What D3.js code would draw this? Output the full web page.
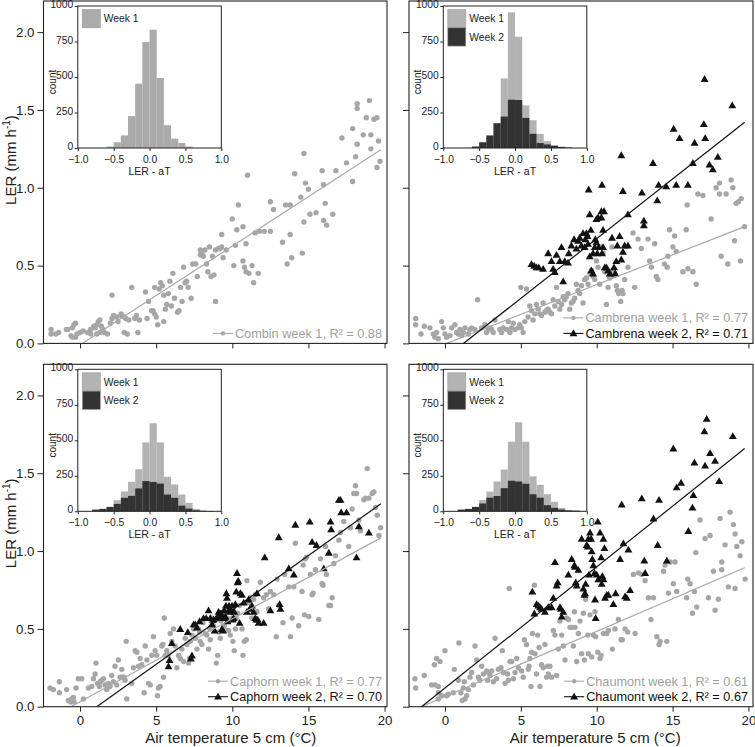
<!DOCTYPE html>
<html><head><meta charset="utf-8">
<script src="https://cdn.jsdelivr.net/npm/d3@7"></script>
<style>
body{margin:0;background:#fff}
svg{display:block}
text{font-family:"Liberation Sans",Arial,Helvetica,sans-serif}
</style>
</head><body>
<svg id="chart" width="755" height="747"></svg>
<script>
// ---------------- DATA ----------------
const xTicks = [0, 5, 10, 15, 20];
const yTicks = [0, 0.5, 1.0, 1.5, 2.0];
const histXTicks = [-1.0, -0.5, 0.0, 0.5, 1.0];
const histYTicks = [0, 250, 500, 750, 1000];
const binStarts = [-0.8,-0.7,-0.6,-0.5,-0.4,-0.3,-0.2,-0.1,0.0,0.1,0.2,0.3,0.4,0.5,0.6,0.7,0.8];
const binWidth = 0.1;

const histCombinW1   = [0,0,10,40,89,225,453,746,833,493,160,66,35,10,0,0,0];
const histCambrenaW1 = [0,3,10,40,88,174,490,955,784,300,196,100,48,20,8,3,0];
const histCambrenaW2 = [0,0,10,40,88,174,221,340,338,212,100,35,25,15,8,3,0];
const histCaphornW1  = [0,8,24,78,140,208,296,485,620,485,243,189,118,59,17,5,2];
const histCaphornW2  = [12,17,31,52,95,109,161,213,206,195,118,95,40,19,7,3,2];
const histChaumontW1 = [0,8,24,79,139,210,294,490,627,490,246,187,120,67,24,5,2];
const histChaumontW2 = [12,17,31,55,96,108,163,215,210,194,120,96,43,24,12,7,5];

// regression fits [slope, intercept]
const fitCombinW1   = [0.0635, -0.010];
const fitCambrenaW1 = [0.0382, -0.004];
const fitCambrenaW2 = [0.0767, -0.094];
const fitCaphornW1  = [0.0533, 0.032];
const fitCaphornW2  = [0.0699, -0.077];
const fitChaumontW1 = [0.0419, 0.065];
const fitChaumontW2 = [0.0779, 0.120];
const fitRange = [-2.4, 19.75];

const legendCombin   = ["Combin week 1, R\u00b2 = 0.88"];
const legendCambrena = ["Cambrena week 1, R\u00b2 = 0.77", "Cambrena week 2, R\u00b2 = 0.71"];
const legendCaphorn  = ["Caphorn week 1, R\u00b2 = 0.77", "Caphorn week 2, R\u00b2 = 0.70"];
const legendChaumont = ["Chaumont week 1, R\u00b2 = 0.61", "Chaumont week 2, R\u00b2 = 0.67"];
const histLegend = ["Week 1", "Week 2"];

const combinWeek1 = [[-1.9,0.09],[-1.9,0.06],[-1.6,0.06],[-1.4,0.07],[-0.9,0.09],[-0.8,0.09],[-0.5,0.10],[-0.4,0.12],[-0.3,0.13],[-0.6,0.05],[-0.5,0.04],[-0.3,0.04],[-0.2,0.06],[0.0,0.07],[0.2,0.08],[0.5,0.07],[0.7,0.09],[0.9,0.11],[1.0,0.10],[1.1,0.12],[1.2,0.14],[1.3,0.15],[1.4,0.11],[1.5,0.09],[1.6,0.07],[1.8,0.06],[1.3,0.07],[1.1,0.06],[0.7,0.06],[2.0,0.13],[2.1,0.16],[2.2,0.18],[2.4,0.17],[2.1,0.31],[2.5,0.14],[2.7,0.19],[2.7,0.18],[2.9,0.17],[3.0,0.16],[2.9,0.07],[3.1,0.06],[3.4,0.36],[3.2,0.15],[3.6,0.16],[3.7,0.18],[3.8,0.07],[3.9,0.15],[4.3,0.33],[4.4,0.16],[4.5,0.27],[4.7,0.21],[4.8,0.21],[4.9,0.36],[4.9,0.19],[5.0,0.17],[5.1,0.12],[5.2,0.35],[5.3,0.39],[5.4,0.37],[5.5,0.31],[5.5,0.14],[5.6,0.22],[5.7,0.25],[5.8,0.32],[5.9,0.40],[6.0,0.24],[6.1,0.45],[6.2,0.29],[6.4,0.20],[6.5,0.21],[6.6,0.36],[6.7,0.27],[6.8,0.49],[6.9,0.39],[7.0,0.40],[7.1,0.36],[7.3,0.29],[7.4,0.51],[7.6,0.51],[7.7,0.43],[7.9,0.57],[7.9,0.60],[8.0,0.58],[8.1,0.56],[8.2,0.60],[8.3,0.51],[8.4,0.46],[8.5,0.62],[8.6,0.43],[8.7,0.56],[8.8,0.44],[8.9,0.60],[8.9,0.27],[9.1,0.61],[9.2,0.61],[9.3,0.70],[9.3,0.62],[9.4,0.55],[9.6,0.60],[10.0,0.80],[10.1,0.50],[10.2,0.63],[10.3,0.73],[10.4,0.89],[10.7,0.75],[10.7,0.53],[10.8,0.49],[10.9,0.46],[10.9,0.64],[11.0,1.08],[11.1,0.45],[11.3,0.50],[11.4,0.39],[11.5,0.71],[11.7,0.45],[11.8,0.72],[12.1,0.72],[12.5,0.72],[12.5,0.91],[12.7,0.86],[13.3,0.65],[13.5,0.89],[13.6,0.51],[13.8,0.70],[13.8,0.89],[13.9,0.55],[14.1,1.09],[14.5,0.94],[14.6,0.58],[14.7,1.22],[14.7,0.78],[14.8,1.03],[15.0,0.99],[15.1,0.83],[15.5,0.84],[15.9,1.11],[16.0,1.02],[16.0,0.79],[16.1,0.90],[16.2,0.76],[16.6,0.83],[16.8,1.11],[17.2,1.32],[17.5,1.16],[17.9,1.38],[17.9,1.04],[18.1,1.20],[18.2,1.51],[18.2,1.54],[18.2,1.28],[18.6,1.34],[18.8,1.45],[19.0,1.56],[19.1,1.34],[19.1,1.25],[19.3,1.44],[19.5,1.13],[19.5,1.45],[19.6,1.30],[19.7,1.17]];

const cambrenaWeek1 = [[-1.93,0.16],[-1.93,0.12],[-1.36,0.11],[-1.58,0.06],[-0.99,0.10],[-0.77,0.06],[-0.66,0.04],[-0.55,0.07],[-0.44,0.03],[-0.22,0.14],[-0.11,0.10],[0.0,0.06],[0.11,0.04],[0.33,0.05],[0.44,0.10],[0.66,0.12],[0.77,0.07],[0.88,0.06],[0.99,0.09],[1.10,0.05],[1.21,0.07],[1.32,0.10],[1.54,0.06],[1.64,0.09],[1.75,0.10],[1.97,0.09],[2.15,0.28],[2.41,0.10],[2.63,0.12],[2.74,0.07],[2.85,0.09],[2.96,0.10],[3.07,0.09],[3.18,0.07],[3.29,0.15],[3.62,0.09],[3.73,0.07],[3.84,0.10],[4.06,0.09],[4.17,0.14],[4.28,0.07],[4.39,0.10],[4.50,0.13],[4.61,0.09],[4.82,0.10],[4.93,0.12],[5.00,0.36],[5.04,0.10],[5.15,0.07],[5.26,0.14],[5.37,0.35],[5.48,0.17],[5.59,0.24],[5.70,0.21],[5.81,0.15],[5.92,0.19],[6.03,0.25],[6.14,0.22],[6.25,0.19],[6.36,0.18],[6.47,0.26],[6.58,0.20],[6.69,0.21],[6.80,0.22],[6.91,0.20],[7.02,0.19],[7.13,0.28],[7.24,0.24],[7.35,0.36],[7.46,0.27],[7.57,0.22],[7.68,0.25],[7.79,0.30],[7.89,0.28],[8.00,0.30],[8.11,0.32],[8.22,0.22],[8.33,0.26],[8.44,0.27],[8.55,0.29],[8.66,0.38],[8.77,0.34],[8.88,0.32],[8.99,0.37],[9.10,0.26],[9.21,0.41],[9.32,0.42],[9.43,0.38],[9.54,0.45],[9.65,0.47],[9.76,0.43],[9.87,0.41],[9.98,0.53],[10.09,0.49],[10.20,0.38],[10.31,0.62],[10.42,0.58],[10.53,0.46],[10.64,0.25],[10.75,0.36],[10.86,0.42],[10.96,0.43],[11.01,0.62],[11.07,0.47],[11.18,0.45],[11.29,0.37],[11.36,0.34],[11.45,0.32],[11.58,0.27],[11.67,0.34],[11.73,0.32],[11.84,0.41],[12.06,0.49],[12.39,0.71],[12.50,0.36],[12.72,0.67],[12.94,0.61],[13.38,0.67],[13.49,0.53],[13.60,0.49],[13.82,0.64],[13.93,0.43],[14.04,0.41],[14.47,0.51],[14.65,0.49],[14.69,0.56],[14.80,0.73],[15.02,0.62],[15.13,0.69],[15.24,0.59],[15.68,0.46],[15.90,0.73],[15.96,0.89],[16.01,0.48],[16.34,0.46],[16.56,0.38],[16.67,0.96],[17.00,0.95],[17.54,0.80],[17.87,1.00],[18.09,1.03],[18.09,0.96],[18.20,0.56],[18.53,0.96],[18.64,0.51],[18.86,1.05],[18.97,1.00],[19.08,0.66],[19.19,0.90],[19.34,0.91],[19.47,0.53],[19.52,0.93],[19.74,0.75]];

const cambrenaWeek2 = [[5.70,0.51],[5.88,0.50],[6.03,0.49],[6.18,0.49],[6.47,0.48],[6.80,0.58],[7.02,0.53],[7.13,0.48],[7.24,0.46],[7.35,0.57],[7.57,0.53],[7.68,0.62],[7.79,0.40],[7.89,0.53],[8.11,0.52],[8.16,0.58],[8.33,0.63],[8.51,0.67],[8.66,0.61],[8.77,0.66],[8.88,0.68],[8.99,0.63],[9.10,0.71],[9.21,0.62],[9.25,0.67],[9.32,0.71],[9.39,0.69],[9.43,0.64],[9.54,0.56],[9.61,0.73],[9.65,0.47],[9.76,0.58],[9.76,0.45],[9.87,0.62],[9.91,0.67],[9.98,0.65],[10.04,0.58],[10.09,0.81],[10.13,0.62],[10.31,0.85],[10.35,0.58],[10.42,0.73],[10.42,0.62],[10.53,0.49],[10.64,0.49],[10.75,0.47],[10.86,0.45],[11.01,0.68],[11.14,0.49],[11.23,0.45],[11.29,0.53],[11.36,0.63],[11.51,0.69],[11.62,0.54],[11.73,0.59],[11.84,0.63],[12.06,0.63],[9.47,0.99],[9.54,0.83],[9.98,0.80],[10.31,0.81],[10.35,1.02],[10.48,0.85],[11.62,1.21],[11.73,0.98],[12.06,0.83],[12.98,0.97],[13.11,0.79],[13.11,0.76],[13.71,1.16],[13.99,0.92],[14.08,1.02],[14.58,1.01],[15.07,1.38],[15.24,1.02],[15.46,1.32],[16.01,1.02],[16.34,1.16],[16.45,1.29],[17.06,1.41],[17.11,1.70],[17.15,1.32],[17.43,1.15],[17.65,1.12],[17.98,1.20],[18.93,1.53]];

const caphornWeek1 = [[-1.97,0.12],[-1.75,0.11],[-1.36,0.16],[-1.36,0.09],[-0.88,0.11],[-0.77,0.04],[-0.61,0.03],[-0.55,0.05],[-0.44,0.06],[-0.39,0.03],[-0.26,0.12],[-0.11,0.18],[0.11,0.18],[0.22,0.05],[0.55,0.12],[0.77,0.13],[0.88,0.18],[0.99,0.21],[1.05,0.28],[1.14,0.15],[1.27,0.13],[1.32,0.16],[1.43,0.17],[1.54,0.18],[1.64,0.14],[1.75,0.11],[1.86,0.15],[1.97,0.13],[2.08,0.20],[2.19,0.16],[2.30,0.26],[2.41,0.14],[2.52,0.30],[2.63,0.19],[2.74,0.24],[2.81,0.19],[2.89,0.19],[2.96,0.17],[3.03,0.42],[3.07,0.05],[3.40,0.15],[3.51,0.25],[3.62,0.36],[3.73,0.35],[3.84,0.26],[3.95,0.31],[4.06,0.27],[4.21,0.09],[4.28,0.39],[4.39,0.30],[4.50,0.15],[4.61,0.14],[4.71,0.33],[4.82,0.45],[4.93,0.36],[5.04,0.33],[5.09,0.07],[5.15,0.12],[5.26,0.13],[5.37,0.39],[5.44,0.40],[5.48,0.19],[5.53,0.57],[5.59,0.33],[5.70,0.36],[5.81,0.33],[5.92,0.47],[6.03,0.42],[6.14,0.50],[6.25,0.39],[6.36,0.25],[6.47,0.33],[6.58,0.31],[6.69,0.37],[6.80,0.29],[6.91,0.44],[7.02,0.40],[7.13,0.28],[7.19,0.31],[7.24,0.42],[7.35,0.46],[7.46,0.50],[7.57,0.44],[7.68,0.37],[7.79,0.50],[7.85,0.48],[7.89,0.42],[8.00,0.40],[8.07,0.54],[8.22,0.47],[8.33,0.46],[8.44,0.37],[8.51,0.50],[8.55,0.43],[8.60,0.55],[8.66,0.57],[8.77,0.52],[8.88,0.56],[8.95,0.28],[9.04,0.33],[9.10,0.48],[9.21,0.44],[9.25,0.55],[9.32,0.60],[9.39,0.61],[9.47,0.52],[9.54,0.49],[9.65,0.57],[9.76,0.49],[9.87,0.46],[9.98,0.57],[10.04,0.42],[10.09,0.61],[10.13,0.36],[10.20,0.50],[10.26,0.57],[10.35,0.60],[10.48,0.65],[10.64,0.50],[10.70,0.33],[10.79,0.42],[10.92,0.43],[10.96,0.81],[11.07,0.67],[11.18,0.70],[11.29,0.57],[11.40,0.69],[11.51,0.72],[11.62,0.61],[11.84,0.80],[12.06,0.70],[12.24,0.72],[12.39,0.63],[12.50,0.74],[12.72,0.72],[12.89,0.45],[12.94,0.82],[13.05,0.65],[13.33,0.54],[13.44,0.85],[13.71,0.77],[13.82,0.45],[13.93,0.57],[14.04,0.77],[14.14,1.05],[14.36,0.52],[14.58,0.74],[14.65,0.91],[14.74,0.59],[14.80,0.95],[14.87,0.96],[15.02,0.58],[15.13,0.85],[15.24,0.72],[15.31,0.73],[15.46,0.88],[15.68,0.56],[15.79,0.95],[15.90,0.79],[15.96,0.78],[16.12,1.03],[16.18,0.85],[16.34,0.65],[16.45,0.65],[16.56,0.70],[16.67,0.92],[16.78,0.97],[17.00,1.07],[17.11,1.12],[17.32,1.19],[17.65,1.03],[17.76,1.15],[17.87,1.27],[17.98,1.37],[18.09,1.42],[18.16,1.37],[18.31,1.20],[18.42,1.13],[18.64,1.33],[18.75,1.34],[18.86,1.53],[18.97,1.34],[19.19,1.37],[19.30,1.38],[19.41,1.28],[19.52,1.23],[19.63,1.10],[19.74,1.15]];

const caphornWeek2 = [[5.81,0.26],[5.88,0.30],[6.03,0.41],[6.58,0.50],[7.08,0.48],[7.28,0.31],[7.35,0.33],[7.46,0.53],[7.57,0.53],[7.68,0.51],[7.85,0.55],[8.11,0.57],[8.29,0.57],[8.44,0.62],[8.55,0.57],[8.66,0.53],[8.77,0.56],[8.84,0.49],[8.95,0.57],[9.10,0.61],[9.17,0.60],[9.21,0.58],[9.25,0.60],[9.32,0.50],[9.39,0.49],[9.43,0.57],[9.47,0.62],[9.54,0.58],[9.58,0.65],[9.61,0.73],[9.65,0.70],[9.69,0.55],[9.74,0.62],[9.78,0.65],[9.87,0.61],[9.91,0.62],[9.98,0.65],[10.02,0.56],[10.09,0.57],[10.13,0.61],[10.20,0.66],[10.26,0.74],[10.31,0.86],[10.35,0.80],[10.39,0.81],[10.48,0.54],[10.53,0.73],[10.64,0.72],[10.75,0.67],[10.96,0.61],[11.07,0.69],[11.14,0.63],[11.29,0.65],[11.40,0.61],[11.51,0.57],[11.58,0.56],[11.62,0.73],[11.67,0.56],[11.73,0.54],[12.06,0.54],[12.13,0.96],[12.50,0.62],[13.05,1.09],[13.11,0.66],[13.16,0.63],[13.71,0.89],[14.04,0.85],[14.14,1.17],[15.09,1.19],[15.24,1.06],[15.53,1.04],[16.01,0.89],[16.34,0.99],[16.45,1.19],[16.49,1.14],[17.00,1.33],[17.11,1.33],[17.15,1.25],[17.50,1.25],[18.16,0.96],[18.31,1.16],[18.97,1.12]];

const chaumontWeek1 = [[-1.98,0.18],[-1.93,0.12],[-1.36,0.20],[-0.88,0.14],[-0.66,0.14],[-0.44,0.13],[-0.70,0.27],[-0.55,0.31],[-0.33,0.29],[0.00,0.36],[-0.44,0.09],[-0.22,0.07],[-0.44,0.05],[0.11,0.07],[0.22,0.08],[0.55,0.09],[0.62,0.24],[0.88,0.17],[0.92,0.41],[1.05,0.09],[1.14,0.04],[1.21,0.12],[1.27,0.16],[1.32,0.05],[1.43,0.07],[1.54,0.11],[1.65,0.19],[1.76,0.22],[1.87,0.14],[1.98,0.39],[2.09,0.30],[2.20,0.19],[2.31,0.17],[2.42,0.26],[2.53,0.21],[2.75,0.23],[2.81,0.17],[2.86,0.22],[2.97,0.20],[3.08,0.23],[3.19,0.16],[3.30,0.44],[3.41,0.18],[3.52,0.24],[3.69,0.25],[3.78,0.36],[3.85,0.22],[3.96,0.15],[4.13,0.21],[4.18,0.17],[4.24,0.76],[4.29,0.29],[4.40,0.29],[4.51,0.18],[4.62,0.22],[4.73,0.31],[4.84,0.25],[5.05,0.23],[5.16,0.19],[5.23,0.43],[5.38,0.40],[5.49,0.24],[5.54,0.26],[5.60,0.31],[5.67,0.13],[5.71,0.35],[5.76,0.47],[5.89,0.78],[5.93,0.34],[6.04,0.21],[6.11,0.46],[6.20,0.38],[6.26,0.13],[6.37,0.27],[6.48,0.25],[6.59,0.40],[6.70,0.19],[6.77,0.26],[6.81,0.21],[6.92,0.26],[7.03,0.19],[7.14,0.49],[7.25,0.46],[7.36,0.20],[7.47,0.37],[7.58,0.55],[7.69,0.46],[7.80,0.39],[7.91,0.30],[8.02,0.57],[8.13,0.56],[8.24,0.51],[8.35,0.51],[8.46,0.39],[8.53,0.61],[8.57,0.51],[8.68,0.29],[8.79,0.47],[8.90,0.55],[9.01,0.34],[9.12,0.60],[9.19,0.30],[9.27,0.69],[9.41,0.46],[9.45,0.34],[9.56,0.59],[9.67,0.32],[9.78,0.46],[9.89,0.61],[9.93,0.45],[10.07,0.35],[10.22,0.31],[10.29,0.33],[10.44,0.47],[10.66,0.47],[10.77,0.49],[11.03,0.37],[11.21,0.50],[11.43,0.56],[11.60,0.43],[11.69,0.43],[11.87,0.50],[12.04,0.48],[12.42,0.85],[12.53,0.47],[12.75,0.86],[12.97,0.85],[13.19,0.81],[13.41,0.70],[13.58,0.56],[13.74,0.70],[13.96,0.45],[14.11,0.40],[14.18,0.42],[14.40,0.87],[14.51,0.91],[14.62,0.42],[14.73,0.73],[14.84,0.93],[15.05,0.79],[15.16,0.93],[15.27,0.74],[15.93,0.70],[16.00,0.82],[16.15,0.79],[16.31,0.60],[16.44,0.74],[16.53,0.99],[16.59,0.64],[16.81,1.20],[17.14,1.08],[17.36,0.70],[17.47,1.10],[17.69,0.87],[17.80,0.62],[18.02,0.69],[18.13,1.21],[18.24,0.93],[18.24,0.88],[18.46,1.04],[18.68,0.77],[18.79,1.25],[19.01,1.17],[19.12,1.11],[19.12,0.76],[19.23,1.03],[19.45,0.97],[19.56,1.06],[19.78,0.82]];

const chaumontWeek2 = [[5.76,0.74],[5.89,0.60],[6.04,0.66],[6.15,0.65],[6.26,0.64],[6.37,0.63],[6.59,0.61],[6.81,0.64],[7.03,0.64],[7.14,0.70],[7.25,0.93],[7.36,0.78],[7.43,0.80],[7.58,0.64],[7.65,0.63],[7.69,0.58],[7.80,0.61],[8.13,0.85],[8.35,0.95],[8.53,0.91],[8.57,0.90],[8.62,0.80],[8.68,0.78],[8.79,0.88],[9.01,1.08],[9.12,0.76],[9.19,0.72],[9.23,0.73],[9.27,0.79],[9.34,1.04],[9.41,1.03],[9.45,1.08],[9.49,0.85],[9.56,1.12],[9.63,1.08],[9.67,1.00],[9.71,0.95],[9.78,0.91],[9.85,0.86],[9.89,0.69],[9.93,0.57],[10.00,0.85],[10.07,1.19],[10.11,0.82],[10.22,1.12],[10.29,0.96],[10.33,0.79],[10.37,0.84],[10.44,0.82],[10.44,1.08],[10.51,1.02],[10.55,0.70],[10.66,0.72],[10.77,0.72],[11.10,0.66],[11.25,0.73],[11.54,0.95],[11.65,1.30],[11.76,1.05],[11.87,0.71],[11.98,0.70],[12.09,1.01],[12.20,0.75],[12.97,1.34],[13.14,0.94],[13.19,0.86],[13.74,1.21],[14.02,1.04],[14.11,1.33],[14.62,0.94],[15.05,1.66],[15.27,1.41],[15.56,1.44],[16.04,1.13],[16.31,1.28],[16.37,1.36],[16.44,1.57],[17.10,1.77],[17.14,1.55],[17.25,1.85],[17.47,1.63],[17.80,1.58],[18.07,1.45],[18.97,1.74]];

// ---------------- DRAW ----------------
const GREY = "#a6a6a6", BLACK = "#111";
const svg = d3.select("#chart");
const PH = 342.4;
const yDomain = [0, 2.2];

const panels = [
  {left:43.5, top:1, w:343.5, xDom:[-2.4, 20.16], showYLab:true, showXLab:false,
   series:[{pts:combinWeek1, fit:fitCombinW1, kind:"dot", label:legendCombin[0]}],
   hist:[{counts:histCombinW1, fill:"#aaaaaa", label:histLegend[0]}]},
  {left:409, top:1, w:344, xDom:[-2.37, 20.3], showYLab:false, showXLab:false,
   series:[{pts:cambrenaWeek1, fit:fitCambrenaW1, kind:"dot", label:legendCambrena[0]},
           {pts:cambrenaWeek2, fit:fitCambrenaW2, kind:"tri", label:legendCambrena[1]}],
   hist:[{counts:histCambrenaW1, fill:"#b3b3b3", label:histLegend[0]},
         {counts:histCambrenaW2, fill:"#333333", label:histLegend[1]}]},
  {left:43.5, top:364.3, w:343.5, xDom:[-2.4, 20.16], showYLab:true, showXLab:true,
   series:[{pts:caphornWeek1, fit:fitCaphornW1, kind:"dot", label:legendCaphorn[0]},
           {pts:caphornWeek2, fit:fitCaphornW2, kind:"tri", label:legendCaphorn[1]}],
   hist:[{counts:histCaphornW1, fill:"#b3b3b3", label:histLegend[0]},
         {counts:histCaphornW2, fill:"#333333", label:histLegend[1]}]},
  {left:409, top:364.3, w:344, xDom:[-2.37, 20.3], showYLab:false, showXLab:true,
   series:[{pts:chaumontWeek1, fit:fitChaumontW1, kind:"dot", label:legendChaumont[0]},
           {pts:chaumontWeek2, fit:fitChaumontW2, kind:"tri", label:legendChaumont[1]}],
   hist:[{counts:histChaumontW1, fill:"#b3b3b3", label:histLegend[0]},
         {counts:histChaumontW2, fill:"#333333", label:histLegend[1]}]}
];

const triSym = d3.symbol().type(d3.symbolTriangle).size(27);

panels.forEach((p, pi) => {
  const PW = p.w;
  const x = d3.scaleLinear().domain(p.xDom).range([p.left, p.left + PW]);
  const y = d3.scaleLinear().domain(yDomain).range([p.top + PH, p.top]);
  const g = svg.append("g");
  const clipId = "clip" + pi;
  svg.append("clipPath").attr("id", clipId).append("rect")
    .attr("x", p.left).attr("y", p.top).attr("width", PW).attr("height", PH);
  const plot = g.append("g").attr("clip-path", `url(#${clipId})`);

  p.series.forEach(s => {
    if (s.kind === "dot") {
      plot.append("g").selectAll("circle").data(s.pts).join("circle")
        .attr("cx", d => x(d[0])).attr("cy", d => y(d[1])).attr("r", 2.7)
        .attr("fill", GREY);
    } else {
      plot.append("g").selectAll("path").data(s.pts).join("path")
        .attr("d", triSym)
        .attr("transform", d => `translate(${x(d[0])},${y(d[1]) + 0.8})`)
        .attr("fill", BLACK);
    }
  });
  p.series.forEach(s => {
    const col = s.kind === "dot" ? "#a9a9a9" : BLACK;
    const line = d3.line().x(d => x(d)).y(d => y(s.fit[0] * d + s.fit[1]));
    plot.append("path").datum(fitRange).attr("d", line)
      .attr("stroke", col).attr("stroke-width", 1.2).attr("fill", "none");
  });

  // axes
  const xAxis = d3.axisBottom(x).tickValues(xTicks).tickSize(5).tickPadding(4)
    .tickFormat(p.showXLab ? d3.format("d") : () => "");
  const gx = g.append("g").attr("transform", `translate(0,${p.top + PH})`).call(xAxis);
  const yAxis = d3.axisLeft(y).tickValues(yTicks).tickSize(6).tickPadding(3)
    .tickFormat(p.showYLab ? d3.format(".1f") : () => "");
  const gy = g.append("g").attr("transform", `translate(${p.left},0)`).call(yAxis);
  [gx, gy].forEach(a => {
    a.select(".domain").remove();
    a.selectAll("line").attr("stroke", "#222").attr("stroke-width", 1);
    a.selectAll("text").attr("font-size", 13.3).attr("fill", "#222")
      .style("font-family", '"Liberation Sans",Arial,sans-serif');
  });
  g.append("rect").attr("x", p.left).attr("y", p.top).attr("width", PW).attr("height", PH)
    .attr("fill", "none").attr("stroke", "#222").attr("stroke-width", 1.1);

  // legend for scatter
  const nS = p.series.length;
  p.series.forEach((s, i) => {
    const rowY = p.top + PH - 10 - (nS - 1 - i) * 15.5;
    const isDot = s.kind === "dot";
    const t = g.append("text").attr("x", p.left + PW - 5).attr("y", rowY)
      .attr("dy", "0.35em").attr("text-anchor", "end")
      .attr("font-size", 12.7).attr("fill", isDot ? "#a0a0a0" : "#111").text(s.label);
    const w = t.node().getComputedTextLength();
    const x0 = p.left + PW - 5 - w - 2;
    g.append("line").attr("x1", x0 - 20).attr("x2", x0).attr("y1", rowY).attr("y2", rowY)
      .attr("stroke", isDot ? "#a9a9a9" : BLACK).attr("stroke-width", 1.1);
    if (isDot) {
      g.append("circle").attr("cx", x0 - 10).attr("cy", rowY).attr("r", 2.2).attr("fill", GREY);
    } else {
      g.append("path").attr("d", triSym).attr("transform", `translate(${x0 - 10},${rowY + 0.5})`).attr("fill", BLACK);
    }
  });

  // inset histogram
  const IL = p.left + 34.3, IT = p.top + 5, IW = 143.5, IH = 142;
  const ix = d3.scaleLinear().domain([-1, 1]).range([IL, IL + IW]);
  const iy = d3.scaleLinear().domain([0, 1000]).range([IT + IH, IT]);
  const ig = g.append("g");
  ig.append("rect").attr("x", IL).attr("y", IT).attr("width", IW).attr("height", IH).attr("fill", "#fff");
  p.hist.forEach(h => {
    ig.append("g").selectAll("rect").data(binStarts.map((b, k) => [b, h.counts[k]]).filter(d => d[1] > 0))
      .join("rect")
      .attr("x", d => ix(d[0])).attr("width", d => ix(d[0] + binWidth) - ix(d[0]))
      .attr("y", d => iy(d[1])).attr("height", d => iy(0) - iy(d[1]))
      .attr("fill", h.fill);
  });
  ig.append("rect").attr("x", IL).attr("y", IT).attr("width", IW).attr("height", IH)
    .attr("fill", "none").attr("stroke", "#222").attr("stroke-width", 1);
  const ixA = d3.axisBottom(ix).tickValues(histXTicks).tickSize(3).tickPadding(4.5)
    .tickFormat(d => d3.format(".1f")(d).replace("-", "\u2212"));
  const iyA = d3.axisLeft(iy).tickValues(histYTicks).tickSize(3).tickPadding(1.5)
    .tickFormat(d3.format("d"));
  const gix = ig.append("g").attr("transform", `translate(0,${IT + IH})`).call(ixA);
  const giy = ig.append("g").attr("transform", `translate(${IL},0)`).call(iyA);
  [gix, giy].forEach(a => {
    a.select(".domain").remove();
    a.selectAll("line").attr("stroke", "#222");
    a.selectAll("text").attr("font-size", 10.3).attr("fill", "#222")
      .style("font-family", '"Liberation Sans",Arial,sans-serif');
  });
  giy.selectAll("text").attr("dy", "0.15em");
  ig.append("text").attr("x", IL + IW / 2).attr("y", IT + IH + 26.5).attr("text-anchor", "middle")
    .attr("font-size", 10.5).attr("fill", "#222").text("LER - aT");
  ig.append("text").attr("transform", `translate(${IL - 22},${IT + 76}) rotate(-90)`)
    .attr("text-anchor", "middle").attr("font-size", 10).attr("fill", "#222").text("count");
  p.hist.forEach((h, i) => {
    const sx = IL + 4.5, sy = IT + 3.5 + i * 18.3;
    ig.append("rect").attr("x", sx).attr("y", sy).attr("width", 18).attr("height", 18.3)
      .attr("fill", h.fill).attr("stroke", "#999").attr("stroke-width", 0.6);
    ig.append("text").attr("x", sx + 21.5).attr("y", sy + 9.2).attr("dy", "0.35em")
      .attr("font-size", 10.3).attr("fill", "#222").text(h.label);
  });

  // axis titles
  if (p.showYLab) {
    const yt = g.append("text").attr("transform", `translate(15.5,${p.top + 159}) rotate(-90)`)
      .attr("text-anchor", "middle").attr("font-size", 15).attr("fill", "#222");
    yt.append("tspan").text("LER (mm h");
    yt.append("tspan").attr("font-size", 10).attr("dy", -5.5).text("-1");
    yt.append("tspan").attr("dy", 5.5).text(")");
  }
  if (p.showXLab) {
    g.append("text").attr("x", x(9.9)).attr("y", p.top + PH + 36.5).attr("text-anchor", "middle")
      .attr("font-size", 15).attr("fill", "#222").text("Air temperature 5 cm (\u00b0C)");
  }
});
</script>
</body></html>
